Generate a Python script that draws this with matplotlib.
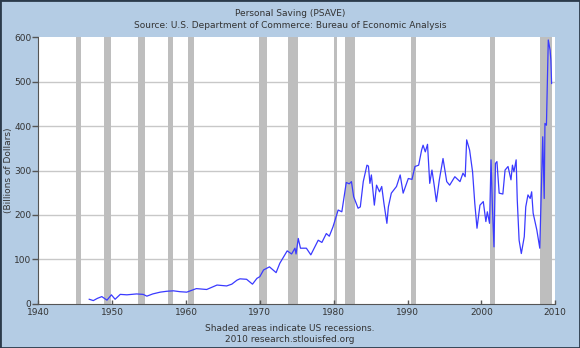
import matplotlib
matplotlib.use('Agg')
import matplotlib.pyplot as plt
from matplotlib.patches import Rectangle

# Personal saving, billions of dollars
years = [1946.9, 1947.45, 1948.0, 1948.6, 1949.3, 1949.9, 1950.4, 1951.1, 1952.0,
         1953.3, 1954.2, 1954.7, 1955.5, 1956.5, 1957.4, 1958.3, 1959.2, 1960.1,
         1961.4, 1962.8, 1964.2, 1965.5, 1966.2, 1966.9, 1967.3, 1968.2, 1969.0,
         1969.6, 1970.0, 1970.5, 1971.3, 1972.2, 1972.7, 1973.7, 1974.3, 1974.75,
         1974.9, 1975.2, 1975.5, 1976.3, 1976.9, 1977.9, 1978.4, 1979.0, 1979.4,
         1979.9, 1980.6, 1981.1, 1981.7, 1982.1, 1982.4, 1982.7, 1983.3, 1983.6,
         1984.0, 1984.5, 1984.7, 1984.9, 1985.1, 1985.5, 1985.8, 1986.2, 1986.5,
         1986.8, 1987.2, 1987.4, 1987.8, 1988.5, 1989.0, 1989.4, 1990.1, 1990.6,
         1991.0, 1991.5, 1991.9, 1992.1, 1992.4, 1992.7, 1993.0, 1993.3, 1993.6,
         1993.9, 1994.3, 1994.8, 1995.3, 1995.7, 1996.4, 1997.1, 1997.5, 1997.8,
         1998.0, 1998.4, 1998.8, 1999.1, 1999.4, 1999.8, 2000.25, 2000.6, 2000.8,
         2001.1, 2001.3, 2001.5, 2001.7, 2001.9, 2002.1, 2002.4, 2002.9, 2003.2,
         2003.6, 2004.0, 2004.2, 2004.4, 2004.7, 2004.85, 2005.1, 2005.4, 2005.8,
         2006.0, 2006.3, 2006.6, 2006.8, 2007.0, 2007.5, 2007.9, 2008.2, 2008.3,
         2008.5, 2008.6, 2008.8, 2009.05, 2009.3, 2009.4, 2009.5]
saving = [10, 7, 12, 16, 8, 20, 10, 21, 20,
          22, 21, 17, 22, 26, 28, 29, 27, 26,
          34, 32, 42, 40, 44, 53, 56, 55, 44,
          57, 61, 76, 83, 70, 91, 119, 112, 125,
          112, 147, 125, 125, 110, 143, 138, 158, 152,
          173, 211, 207, 273, 270, 275, 241, 215, 218,
          275, 312, 310, 271, 290, 222, 267, 252, 264,
          226, 181, 218, 249, 264, 290, 249, 282, 280,
          309, 312, 346, 357, 342, 359, 271, 301, 267,
          230, 279, 327, 275, 267, 286, 275, 294, 286,
          369, 346, 297, 226, 170, 222, 230, 185, 207,
          181, 324, 211, 128, 316, 320, 249, 247, 301,
          309, 279, 312, 297, 324, 234, 143, 113, 151,
          218, 245, 237, 252, 204, 166, 125, 309, 376,
          237, 406, 402, 594, 571, 549, 496]

# NBER recessions (start, end)
rec_start = [1945.1, 1948.9, 1953.5, 1957.6, 1960.3, 1969.9, 1973.8, 1980.0, 1981.5, 1990.5, 2001.2, 2007.9]
rec_end = [1945.8, 1949.8, 1954.4, 1958.3, 1961.1, 1970.9, 1975.2, 1980.5, 1982.9, 1991.2, 2001.9, 2009.5]

x_ticks = [1940, 1950, 1960, 1970, 1980, 1990, 2000, 2010]
y_ticks = [0, 100, 200, 300, 400, 500, 600]

bg = '#b4cce4'
txt = '#333333'

fig = plt.figure(figsize=(5.8, 3.48), dpi=100, facecolor=bg)
ax = fig.add_axes([0.066, 0.1273, 0.8914, 0.7655])
ax.set_facecolor('white')

for s, e in zip(rec_start, rec_end):
    ax.axvspan(s, e, color='#bebebe', lw=0, zorder=1)

for y in y_ticks[1:-1]:
    ax.axhline(y, color='#c8c8c8', lw=1, zorder=0.5)

ax.plot(years, saving, color='#3a3aff', lw=0.9, zorder=3)

ax.set_xlim(1940, 2010)
ax.set_ylim(0, 600)
ax.set_xticks(x_ticks)
ax.set_yticks(y_ticks)
ax.tick_params(axis='x', direction='in', length=3, width=1, color='#555555',
               labelsize=6.5, labelcolor=txt, pad=3)
ax.tick_params(axis='y', direction='out', length=4, width=1, color='#555555',
               labelsize=6.5, labelcolor=txt, pad=1)
ax.spines['top'].set_visible(False)
ax.spines['right'].set_visible(False)
ax.spines['left'].set_color('#555555')
ax.spines['bottom'].set_color('#555555')
ax.spines['left'].set_zorder(4)
ax.spines['bottom'].set_zorder(4)

fig.text(0.5, 0.962, 'Personal Saving (PSAVE)', ha='center', va='center', fontsize=6.5, color=txt)
fig.text(0.5, 0.928, 'Source: U.S. Department of Commerce: Bureau of Economic Analysis',
         ha='center', va='center', fontsize=6.5, color=txt)
fig.text(0.014, 0.511, '(Billions of Dollars)', rotation=90, ha='center', va='center',
         fontsize=6.5, color=txt)
fig.text(0.5, 0.057, 'Shaded areas indicate US recessions.', ha='center', va='center',
         fontsize=6.5, color=txt)
fig.text(0.5, 0.025, '2010 research.stlouisfed.org', ha='center', va='center',
         fontsize=6.5, color=txt)

# dark frame around the whole image
fig.patches.append(Rectangle((0, 0), 1, 1, transform=fig.transFigure, fill=False,
                             edgecolor='#2b3a4a', lw=2))

plt.savefig('out.png', dpi=100, facecolor=bg)
plt.close()
